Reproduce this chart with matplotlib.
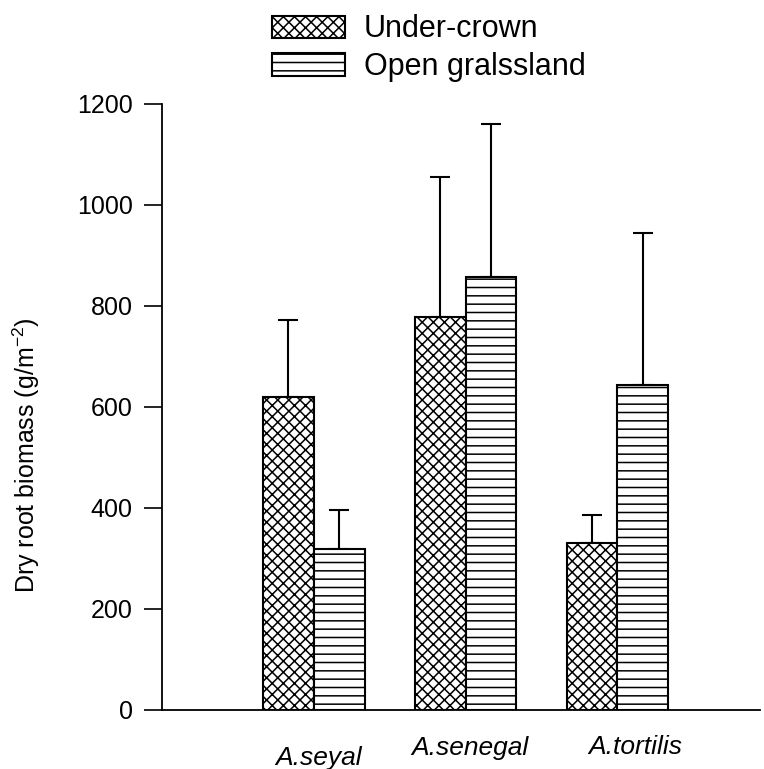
import numpy as np
import matplotlib
matplotlib.use("Agg")
import matplotlib.pyplot as plt

plt.rcParams['font.family'] = ['Liberation Sans', 'DejaVu Sans']
plt.rcParams['mathtext.default'] = 'regular'
plt.rcParams['hatch.linewidth'] = 1.1

# ---------------------------------- data ------------------------------------
species = ['A.seyal', 'A.senegal', 'A.tortilis']
under_crown = [620, 778, 331]
under_crown_err = [152, 277, 55]
open_grass = [319, 857, 643]
open_grass_err = [76, 303, 302]
yticks = [0, 200, 400, 600, 800, 1000, 1200]

# --------------------------------- figure -----------------------------------
fig = plt.figure(figsize=(7.64, 7.69), dpi=100)
ax = fig.add_axes([0.212, 0.077, 0.783, 0.788])

x = np.arange(len(species))
w = 0.335

ax.bar(x - w/2, under_crown, w, color='white', edgecolor='black',
       hatch='xxx', linewidth=1.5, label='Under-crown', zorder=2)
ax.bar(x + w/2, open_grass, w, color='white', edgecolor='black',
       hatch='--', linewidth=1.5, label='Open gralssland', zorder=2)

# only upper error bars
ax.errorbar(x - w/2, under_crown, yerr=[np.zeros(3), under_crown_err],
            fmt='none', ecolor='black', elinewidth=1.5, capsize=7.5,
            capthick=1.5, zorder=1)
ax.errorbar(x + w/2, open_grass, yerr=[np.zeros(3), open_grass_err],
            fmt='none', ecolor='black', elinewidth=1.5, capsize=7.5,
            capthick=1.5, zorder=1)

ax.set_xlim(-1.0, 2.94)
ax.set_ylim(0, 1200)
ax.set_yticks(yticks)
ax.tick_params(axis='y', direction='out', length=13, width=1.2,
               labelsize=18, pad=8)
ax.set_xticks([])

for s in ['top', 'right']:
    ax.spines[s].set_visible(False)
ax.spines['left'].set_linewidth(1.3)
ax.spines['bottom'].set_linewidth(1.3)

ax.set_ylabel(r'Dry root biomass (g/m$^{\mathregular{-2}}$)', fontsize=18)
ax.yaxis.set_label_coords(-0.20, 0.42)

# species names under the bars (scan is slightly skewed)
label_dx = [0.03, 0.03, 0.12]
label_y = [-0.08, -0.063, -0.061]
for xi, name, dx, yy in zip(x, species, label_dx, label_y):
    ax.text(xi + dx, yy, name, transform=ax.get_xaxis_transform(),
            ha='center', va='center', fontsize=19, style='italic')

fig.legend(loc='upper left', bbox_to_anchor=(0.332, 1.005), frameon=False,
           fontsize=22, handlelength=2.4, handleheight=0.75,
           labelspacing=0.25, handletextpad=0.6, borderaxespad=0.2)

fig.savefig('out.png', dpi=100)
